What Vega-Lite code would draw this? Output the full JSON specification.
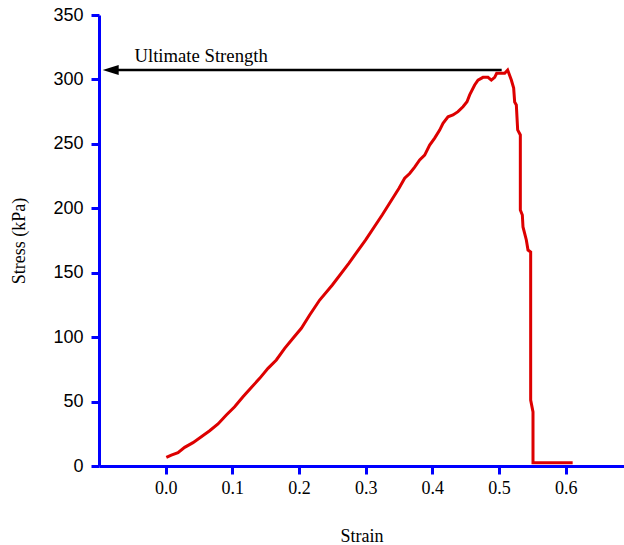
{
  "$schema": "https://vega.github.io/schema/vega-lite/v6.json",
  "width": 525,
  "height": 451,
  "autosize": {"type": "none"},
  "padding": {"left": 99, "top": 15, "right": 0, "bottom": 79},
  "background": "white",
  "config": {
    "view": {"stroke": null},
    "axis": {
      "grid": false,
      "domainColor": "#0000ff",
      "domainWidth": 3,
      "tickColor": "#0000ff",
      "tickWidth": 3,
      "tickSize": 8,
      "labelColor": "black",
      "titleColor": "black",
      "titleFont": "Liberation Serif",
      "titleFontWeight": "normal",
      "titleFontSize": 18,
      "labelFontSize": 18
    }
  },
  "datasets": {
    "curve": [
      {"i": 1, "strain": 0.001, "stress": 6.7},
      {"i": 2, "strain": 0.0085, "stress": 8.5},
      {"i": 3, "strain": 0.0185, "stress": 10.3},
      {"i": 4, "strain": 0.0285, "stress": 14.5},
      {"i": 5, "strain": 0.041, "stress": 18.1},
      {"i": 6, "strain": 0.0535, "stress": 22.7},
      {"i": 7, "strain": 0.066, "stress": 27.4},
      {"i": 8, "strain": 0.0785, "stress": 32.6},
      {"i": 9, "strain": 0.091, "stress": 39.6},
      {"i": 10, "strain": 0.1035, "stress": 46},
      {"i": 11, "strain": 0.116, "stress": 53.8},
      {"i": 12, "strain": 0.1285, "stress": 61},
      {"i": 13, "strain": 0.141, "stress": 68},
      {"i": 14, "strain": 0.1535, "stress": 75.8},
      {"i": 15, "strain": 0.166, "stress": 82.3},
      {"i": 16, "strain": 0.1785, "stress": 91.3},
      {"i": 17, "strain": 0.191, "stress": 99.1},
      {"i": 18, "strain": 0.2035, "stress": 106.9},
      {"i": 19, "strain": 0.216, "stress": 117.2},
      {"i": 20, "strain": 0.231, "stress": 128.8},
      {"i": 21, "strain": 0.25, "stress": 140.5},
      {"i": 22, "strain": 0.275, "stress": 157.5},
      {"i": 23, "strain": 0.3, "stress": 175.5},
      {"i": 24, "strain": 0.325, "stress": 195},
      {"i": 25, "strain": 0.35, "stress": 215.5},
      {"i": 26, "strain": 0.3585, "stress": 223.3},
      {"i": 27, "strain": 0.366, "stress": 227},
      {"i": 28, "strain": 0.3735, "stress": 232},
      {"i": 29, "strain": 0.381, "stress": 237.5},
      {"i": 30, "strain": 0.3885, "stress": 241.3},
      {"i": 31, "strain": 0.396, "stress": 249},
      {"i": 32, "strain": 0.4035, "stress": 254.5},
      {"i": 33, "strain": 0.411, "stress": 260.7},
      {"i": 34, "strain": 0.416, "stress": 266},
      {"i": 35, "strain": 0.4235, "stress": 271},
      {"i": 36, "strain": 0.431, "stress": 272.4},
      {"i": 37, "strain": 0.4385, "stress": 275},
      {"i": 38, "strain": 0.446, "stress": 278.8},
      {"i": 39, "strain": 0.452, "stress": 282.7},
      {"i": 40, "strain": 0.456, "stress": 288},
      {"i": 41, "strain": 0.4635, "stress": 295.7},
      {"i": 42, "strain": 0.4685, "stress": 299.5},
      {"i": 43, "strain": 0.476, "stress": 301.6},
      {"i": 44, "strain": 0.4835, "stress": 301.6},
      {"i": 45, "strain": 0.4885, "stress": 299.5},
      {"i": 46, "strain": 0.4935, "stress": 301.6},
      {"i": 47, "strain": 0.4965, "stress": 304.7},
      {"i": 48, "strain": 0.5085, "stress": 304.7},
      {"i": 49, "strain": 0.513, "stress": 307.3},
      {"i": 50, "strain": 0.5185, "stress": 299.5},
      {"i": 51, "strain": 0.522, "stress": 293.3},
      {"i": 52, "strain": 0.5235, "stress": 282.5},
      {"i": 53, "strain": 0.526, "stress": 280.2},
      {"i": 54, "strain": 0.528, "stress": 260.8},
      {"i": 55, "strain": 0.532, "stress": 256.9},
      {"i": 56, "strain": 0.532, "stress": 198.7},
      {"i": 57, "strain": 0.535, "stress": 194.8},
      {"i": 58, "strain": 0.536, "stress": 185.5},
      {"i": 59, "strain": 0.541, "stress": 175.4},
      {"i": 60, "strain": 0.5435, "stress": 167.6},
      {"i": 61, "strain": 0.5475, "stress": 166.1},
      {"i": 62, "strain": 0.5475, "stress": 51.2},
      {"i": 63, "strain": 0.551, "stress": 42},
      {"i": 64, "strain": 0.551, "stress": 2.6},
      {"i": 65, "strain": 0.6105, "stress": 2.6}
    ],
    "arrow": [{"strain": -0.075, "strain2": 0.504, "stress": 307.3}],
    "head": [{"strain": -0.0945, "stress": 307.3}],
    "label": [{"strain": -0.0468, "stress": 313.5, "text": "Ultimate Strength"}]
  },
  "encoding": {
    "x": {
      "field": "strain",
      "type": "quantitative",
      "scale": {"domain": [-0.1, 0.6875], "nice": false, "zero": false},
      "axis": {
        "title": "Strain",
        "values": [0, 0.1, 0.2, 0.3, 0.4, 0.5, 0.6],
        "format": ".1f",
        "labelFont": "Liberation Serif",
        "labelPadding": 5,
        "titlePadding": 30
      }
    },
    "y": {
      "field": "stress",
      "type": "quantitative",
      "scale": {"domain": [0, 350], "nice": false},
      "axis": {
        "title": "Stress (kPa)",
        "values": [0, 50, 100, 150, 200, 250, 300, 350],
        "labelFont": "Liberation Sans",
        "labelPadding": 8,
        "titlePadding": 24
      }
    }
  },
  "layer": [
    {
      "data": {"name": "curve"},
      "mark": {"type": "line", "color": "#dd0000", "strokeWidth": 3, "strokeJoin": "miter"},
      "encoding": {"order": {"field": "i", "type": "quantitative"}}
    },
    {
      "data": {"name": "arrow"},
      "mark": {"type": "rule", "color": "black", "strokeWidth": 2.5},
      "encoding": {"x2": {"field": "strain2"}}
    },
    {
      "data": {"name": "head"},
      "mark": {"type": "point", "shape": "M0,0 L2,-0.625 L2,0.625 Z", "size": 256, "filled": true, "color": "black", "opacity": 1}
    },
    {
      "data": {"name": "label"},
      "mark": {"type": "text", "align": "left", "baseline": "alphabetic", "font": "Liberation Serif", "fontSize": 18.7, "color": "black"},
      "encoding": {"text": {"field": "text"}}
    }
  ]
}
